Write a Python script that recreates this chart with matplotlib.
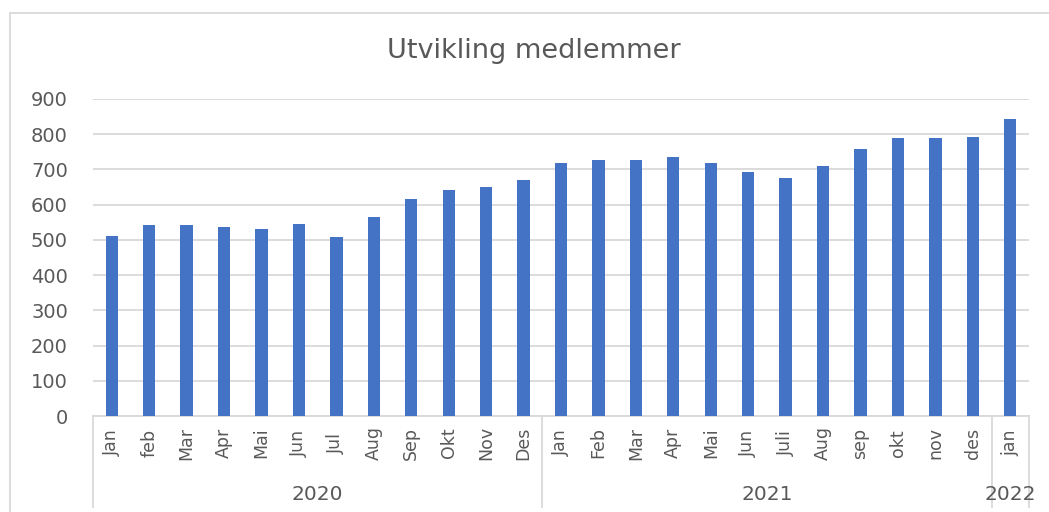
import numpy as np
import matplotlib
matplotlib.use("Agg")
import matplotlib.pyplot as plt
from matplotlib.patches import Rectangle

# ============================
# data
# ============================
months = ["Jan", "feb", "Mar", "Apr", "Mai", "Jun", "Jul", "Aug", "Sep", "Okt", "Nov", "Des",
          "Jan", "Feb", "Mar", "Apr", "Mai", "Jun", "Juli", "Aug", "sep", "okt", "nov", "des",
          "jan"]
members = [510, 541, 541, 538, 532, 545, 507, 566, 616, 642, 650, 670,
           719, 726, 726, 735, 719, 693, 677, 709, 757, 789, 789, 792,
           843]
years = ["2020", "2021", "2022"]
year_counts = [12, 12, 1]

BAR_COLOR = "#4472C4"
GRID_COLOR = "#d9d9d9"
TEXT_COLOR = "#595959"

plt.rcParams["font.family"] = ["DejaVu Sans"]

W, H = 1049, 512
fig = plt.figure(figsize=(W / 100, H / 100), dpi=100)

# axes placed in pixel terms
left, right, top, bottom = 93, 1029, 99, 416
ax = fig.add_axes([left / W, 1 - bottom / H, (right - left) / W, (bottom - top) / H])

x = np.arange(len(months))
ax.bar(x, members, width=0.33, color=BAR_COLOR, zorder=3)

ax.set_xlim(-0.5, len(months) - 0.5)
ax.set_ylim(0, 900)
ax.set_yticks(np.arange(0, 901, 100))
ax.yaxis.grid(True, color=GRID_COLOR, linewidth=1.3, zorder=0)
ax.tick_params(axis="y", length=0, pad=18, labelsize=14, labelcolor=TEXT_COLOR)
ax.set_xticks([])
for s in ["top", "right", "left"]:
    ax.spines[s].set_visible(False)
ax.spines["bottom"].set_color(GRID_COLOR)
ax.spines["bottom"].set_linewidth(1.3)

# month labels
axh = bottom - top
tr = ax.get_xaxis_transform()
for i, m in enumerate(months):
    ax.text(i, -27 / axh, m, rotation=90, ha="center", va="center",
            fontsize=12.5, color=TEXT_COLOR, transform=tr, clip_on=False)

# year groups with divider lines
line_bottom = -(507 - bottom) / axh
start = 0
edges = [-0.5]
for yr, n in zip(years, year_counts):
    mid = start + (n - 1) / 2
    ax.text(mid, -78.5 / axh, yr, ha="center", va="center", fontsize=14.5,
            color=TEXT_COLOR, transform=tr, clip_on=False)
    start += n
    edges.append(start - 0.5)
for e in edges:
    ax.plot([e, e], [0, line_bottom], color=GRID_COLOR, linewidth=1.3,
            transform=tr, clip_on=False)

# title
fig.text(534 / W, 1 - 51 / H, "Utvikling medlemmer", ha="center", va="center",
         fontsize=19.5, color=TEXT_COLOR)

# chart border (cropped at right/bottom)
fig.patches.append(Rectangle((10 / W, -0.1), 1.2, 1.1 - 13 / H, transform=fig.transFigure,
                             fill=False, edgecolor=GRID_COLOR, linewidth=1.3))

fig.savefig("out.png", dpi=100)
